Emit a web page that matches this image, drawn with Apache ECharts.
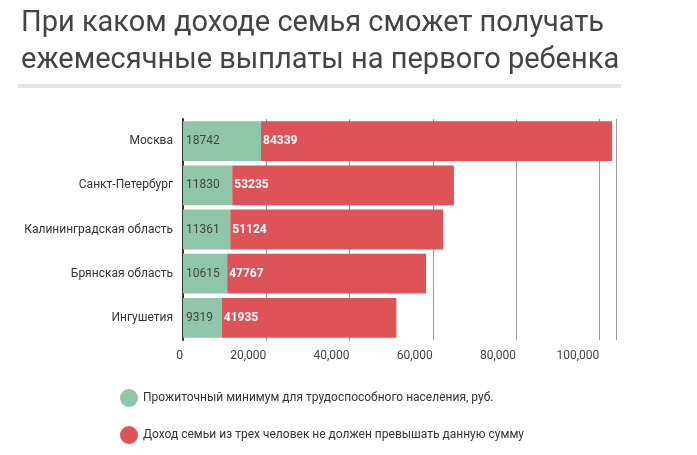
<!DOCTYPE html>
<html lang="ru">
<head>
<meta charset="UTF-8">
<script src="https://cdn.jsdelivr.net/npm/echarts@6/dist/echarts.min.js"></script>
<style>
    html, body { margin: 0; padding: 0; background: #fff; }
    #main { width: 697px; height: 455px; }
</style>
</head>
<body>
<div id="main"></div>
<script>
    var regions = ['Москва', 'Санкт-Петербург', 'Калининградская область', 'Брянская область', 'Ингушетия'];
    var minimum = [18742, 11830, 11361, 10615, 9319];
    var income = [84339, 53235, 51124, 47767, 41935];
    var seriesNames = ['Прожиточный минимум для трудоспособного населения, руб.',
        'Доход семьи из трех человек не должен превышать данную сумму'];

    var chart = echarts.init(document.getElementById('main'));
    var font = 'Roboto';

    chart.setOption({
        animation: false,
        title: {
            text: 'При каком доходе семья сможет получать\nежемесячные выплаты на первого ребенка',
            left: 16, top: 0,
            textStyle: { fontFamily: font, fontSize: 29, fontWeight: 'normal', color: '#444', lineHeight: 37 }
        },
        graphic: [{
            type: 'rect', shape: { x: 18, y: 84, width: 603, height: 4 },
            style: { fill: '#e3e3e3' }
        }],
        legend: {
            orient: 'vertical', left: 115, top: 384, itemGap: 19,
            icon: 'circle', itemWidth: 18, itemHeight: 18,
            textStyle: { fontFamily: font, fontSize: 12, color: '#333' },
            data: seriesNames
        },
        grid: { left: 183, right: 81, top: 119, bottom: 115 },
        xAxis: {
            type: 'value', min: 0, max: 104000, interval: 20000,
            axisLine: { show: false }, axisTick: { show: false },
            axisLabel: { showMaxLabel: false, fontFamily: font, fontSize: 12, color: '#444',
                align: 'right', margin: 10 },
            splitLine: { lineStyle: { color: '#999', width: 1 } }
        },
        yAxis: {
            type: 'category', inverse: true, data: regions,
            axisLine: { lineStyle: { color: '#333', width: 2 } },
            axisTick: { show: false },
            axisLabel: { fontFamily: font, fontSize: 12, color: '#333', margin: 10 }
        },
        series: [{
            name: seriesNames[0], type: 'bar', stack: 'a', barWidth: '90%',
            itemStyle: { color: '#8fc5a8' },
            label: { show: true, position: 'insideLeft', distance: 3, color: '#444',
                fontFamily: font, fontSize: 12 },
            data: minimum
        }, {
            name: seriesNames[1], type: 'bar', stack: 'a',
            itemStyle: { color: '#dd5357' },
            label: { show: true, position: 'insideLeft', distance: 2, color: '#fff',
                fontFamily: font, fontSize: 12, fontWeight: 'bold' },
            data: income
        }]
    });
</script>
</body>
</html>
